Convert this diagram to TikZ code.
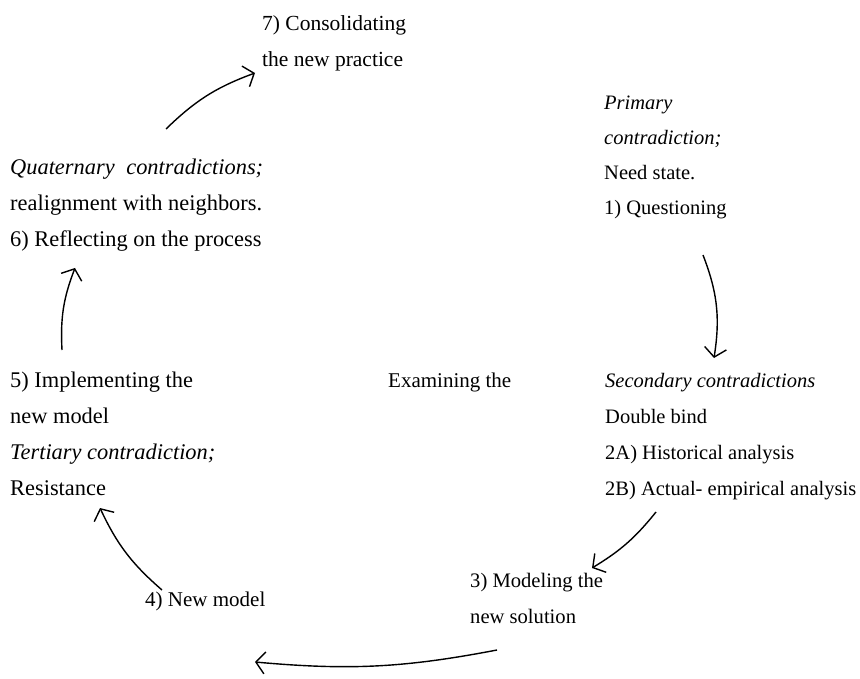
\documentclass[tikz,border=0pt]{standalone}
\usepackage{fontspec}
\setmainfont{Liberation Serif}
\usetikzlibrary{arrows.meta}
\tikzset{
  x=1pt,y=-1pt,
  txt/.style={anchor=base west,inner sep=0pt,font=\fontsize{#1}{36}\selectfont},
  txt/.default=20.5,
  itxt/.style={anchor=base west,inner sep=0pt,font=\fontsize{#1}{36}\selectfont\itshape},
  itxt/.default=20.5,
  cyc/.style={line width=1.4pt,-{Straight Barb[length=9pt,width=22pt,line width=1.4pt]},bend left=#1},
  cyc/.default=15
}
\begin{document}
\begin{tikzpicture}
\path[use as bounding box] (0,0) rectangle (860,679);
% 7)
\node[txt=21.5] (s7a) at (262,31) {7) Consolidating};
\node[txt=21.5] (s7b) at (262,67) {the new practice};
% primary
\node[itxt] (p1) at (604,110) {Primary};
\node[itxt] (p2) at (604,145) {contradiction;};
\node[txt] (p3) at (604,180) {Need state.};
\node[txt] (p4) at (604,215) {1) Questioning};
% quaternary
\node[txt=22.4] (q1) at (10,175) {\hbox to 253pt{\itshape Quaternary\hfill contradictions;}};
\node[txt=22.4] (q2) at (10,211) {realignment with neighbors.};
\node[txt=22.4] (q3) at (10,247) {6) Reflecting on the process};
% 5)
\node[txt=22.4] (f1) at (10,387) {5) Implementing the};
\node[txt=22.4] (f2) at (10,423) {new model};
\node[itxt=22.4] (f3) at (10,459) {Tertiary contradiction;};
\node[txt=22.4] (f4) at (10,495) {Resistance};
% examining
\node[txt=21] (ex) at (388,387) {Examining the};
% secondary
\node[itxt] (c1) at (605,387) {Secondary contradictions};
\node[txt] (c2) at (605,423) {Double bind};
\node[txt] (c3) at (605,459) {2A) Historical analysis};
\node[txt] (c4) at (605,495) {2B) Actual- empirical analysis};
% 4)
\node[txt=21] (m4) at (145,606) {4) New model};
% 3)
\node[txt=20.6] (m3a) at (470,587) {3) Modeling the};
\node[txt=20.6] (m3b) at (470,623) {new solution};
% arrow end points
\coordinate (a1s) at (703,255); \coordinate (a1e) at (714,358);
\coordinate (a2s) at (656,512); \coordinate (a2e) at (592,568);
\coordinate (a3s) at (497,650); \coordinate (a3e) at (255,662);
\coordinate (a4s) at (162,590); \coordinate (a4e) at (100,508);
\coordinate (a5s) at (62,350);  \coordinate (a5e) at (75,268);
\coordinate (a6s) at (166,129); \coordinate (a6e) at (255,73);
\draw[cyc=15] (a1s) to (a1e);
\draw[cyc=10] (a2s) to (a2e);
\draw[cyc=8] (a3s) to (a3e);
\draw[cyc=12] (a4s) to (a4e);
\draw[cyc=12] (a5s) to (a5e);
\draw[cyc=12] (a6s) to (a6e);
\end{tikzpicture}
\end{document}
